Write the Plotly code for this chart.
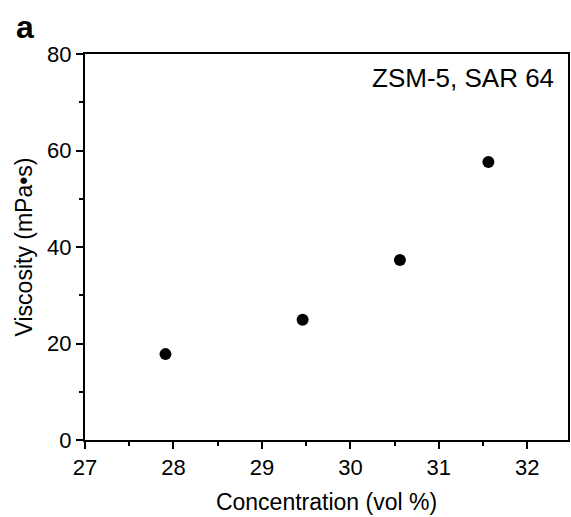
import plotly.graph_objects as go

concentration = [27.91, 29.46, 30.56, 31.56]
viscosity = [17.8, 24.9, 37.3, 57.6]
x_ticks = [27, 28, 29, 30, 31, 32]
y_ticks = [0, 20, 40, 60, 80]

FONT = "Liberation Sans, Arial, sans-serif"

fig = go.Figure()
fig.add_trace(go.Scatter(
    x=concentration, y=viscosity, mode="markers",
    marker=dict(color="black", size=12, line=dict(width=0)),
    showlegend=False, cliponaxis=False,
))

axis_common = dict(
    showline=True, linecolor="black", linewidth=2, mirror=True,
    ticks="outside", ticklen=7, tickwidth=2, tickcolor="black",
    showgrid=False, zeroline=False, automargin=False,
    tickfont=dict(family=FONT, size=22, color="black"),
)

fig.update_xaxes(
    range=[27, 32.46], tickvals=x_ticks, ticktext=[str(v) for v in x_ticks],
    title=dict(text="Concentration (vol %)", font=dict(family=FONT, size=23, color="black"), standoff=14),
    minor=dict(ticks="outside", ticklen=4, tickwidth=2, tickcolor="black", dtick=0.5, tick0=27),
    **axis_common,
)
fig.update_yaxes(
    range=[0, 80], tickvals=y_ticks, ticktext=[str(v) for v in y_ticks],
    title=dict(text="Viscosity (mPa\u2022s)", font=dict(family=FONT, size=23, color="black"), standoff=8),
    minor=dict(ticks="outside", ticklen=4, tickwidth=2, tickcolor="black", dtick=10, tick0=0),
    **axis_common,
)

fig.add_annotation(
    text="ZSM-5, SAR 64", xref="paper", yref="paper", x=0.975, y=0.938,
    xanchor="right", yanchor="middle", showarrow=False,
    font=dict(family=FONT, size=26, color="black"),
)
fig.add_annotation(
    text="<b>a</b>", xref="paper", yref="paper", x=-0.146, y=1.07,
    xanchor="left", yanchor="middle", showarrow=False,
    font=dict(family=FONT, size=32, color="black"),
)

fig.update_layout(
    width=571, height=517,
    margin=dict(l=85, r=3, t=54, b=77),
    plot_bgcolor="white", paper_bgcolor="white",
)

fig.write_html("out.html", config={"displayModeBar": False},
               post_script="document.body.style.margin='0';")
